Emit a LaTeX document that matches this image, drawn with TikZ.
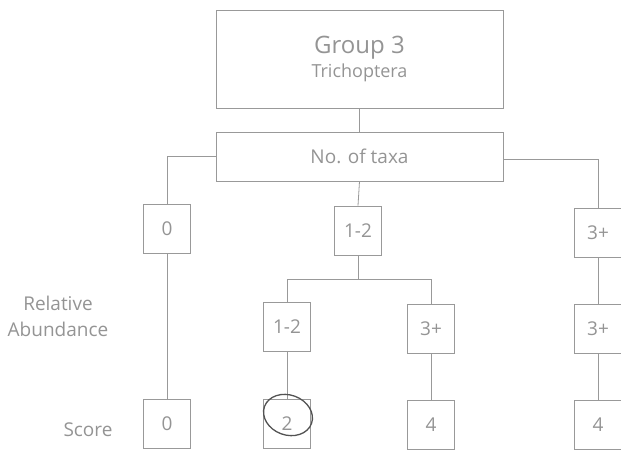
\documentclass[tikz,border=0pt]{standalone}
\usepackage{fontspec}
\setmainfont{Open Sans}
\begin{document}
\begin{tikzpicture}[x=1pt, y=-1pt,
  every node/.style={text=black!42},
  frame/.style={draw=black!40, line width=0.8pt, rectangle, inner sep=0pt},
  bigbox/.style={frame, minimum width=287pt, minimum height=98pt, align=center},
  taxabox/.style={frame, minimum width=287pt, minimum height=49pt, font=\fontsize{19}{23}\selectfont},
  cell/.style={frame, minimum width=47pt, minimum height=49pt, font=\fontsize{19}{23}\selectfont},
  link/.style={draw=black!40, line width=0.8pt},
  sidelabel/.style={text=black!42, align=center, font=\fontsize{19}{26}\selectfont}]
\useasboundingbox (0,0) rectangle (621,451);
\clip (0,0) rectangle (621,451);

% header boxes
\node[bigbox] (grp) at (359.5,59) {{\fontsize{24}{30}\selectfont Group 3}\\[3pt]{\fontsize{18}{22}\selectfont Trichoptera}};
\node[taxabox] (taxa) at (359.5,156.5) {No. of taxa};

% number of taxa
\node[cell] (t0)  at (167,228.5) {0};
\node[cell] (t12) at (358,230.5) {1-2};
\node[cell] (t3)  at (598,232.5) {3+};

% relative abundance
\node[cell] (r12) at (287,327) {1-2};
\node[cell] (r3)  at (431,328.5) {3+};
\node[cell] (r3b) at (598,328.5) {3+};

% scores
\node[cell] (s0)  at (167,423.5) {0};
\node[cell] (s2)  at (287,423.5) {2};
\node[cell] (s4)  at (431,425) {4};
\node[cell] (s4b) at (598,425) {4};

% row labels
\node[sidelabel] (lab1) at (58,316) {Relative\\Abundance};
\node[sidelabel] (lab2) at (88,430) {Score};

% connectors
\coordinate (split) at (358,279);
\draw[link] (grp) -- (taxa);
\draw[link] (taxa.west) -| (t0.north);
\draw[link] ([yshift=-3pt]taxa.east) -| (t3.north);
\draw[link] (taxa.south) -- (t12.north);
\draw[link] (t12.south) -- (split);
\draw[link] (split) -| (r12.north);
\draw[link] (split) -| (r3.north);
\draw[link] (t0.south) -- (s0.north);
\draw[link] (r12.south) -- (s2.north);
\draw[link] (r3.south) -- (s4.north);
\draw[link] (t3.south) -- (r3b.north);
\draw[link] (r3b.south) -- (s4b.north);

% hand-drawn circle round the score
\draw[black!68, line width=1.3pt, rotate around={-20:(288,415)}] (288,415) ellipse (25 and 20);
\end{tikzpicture}
\end{document}
